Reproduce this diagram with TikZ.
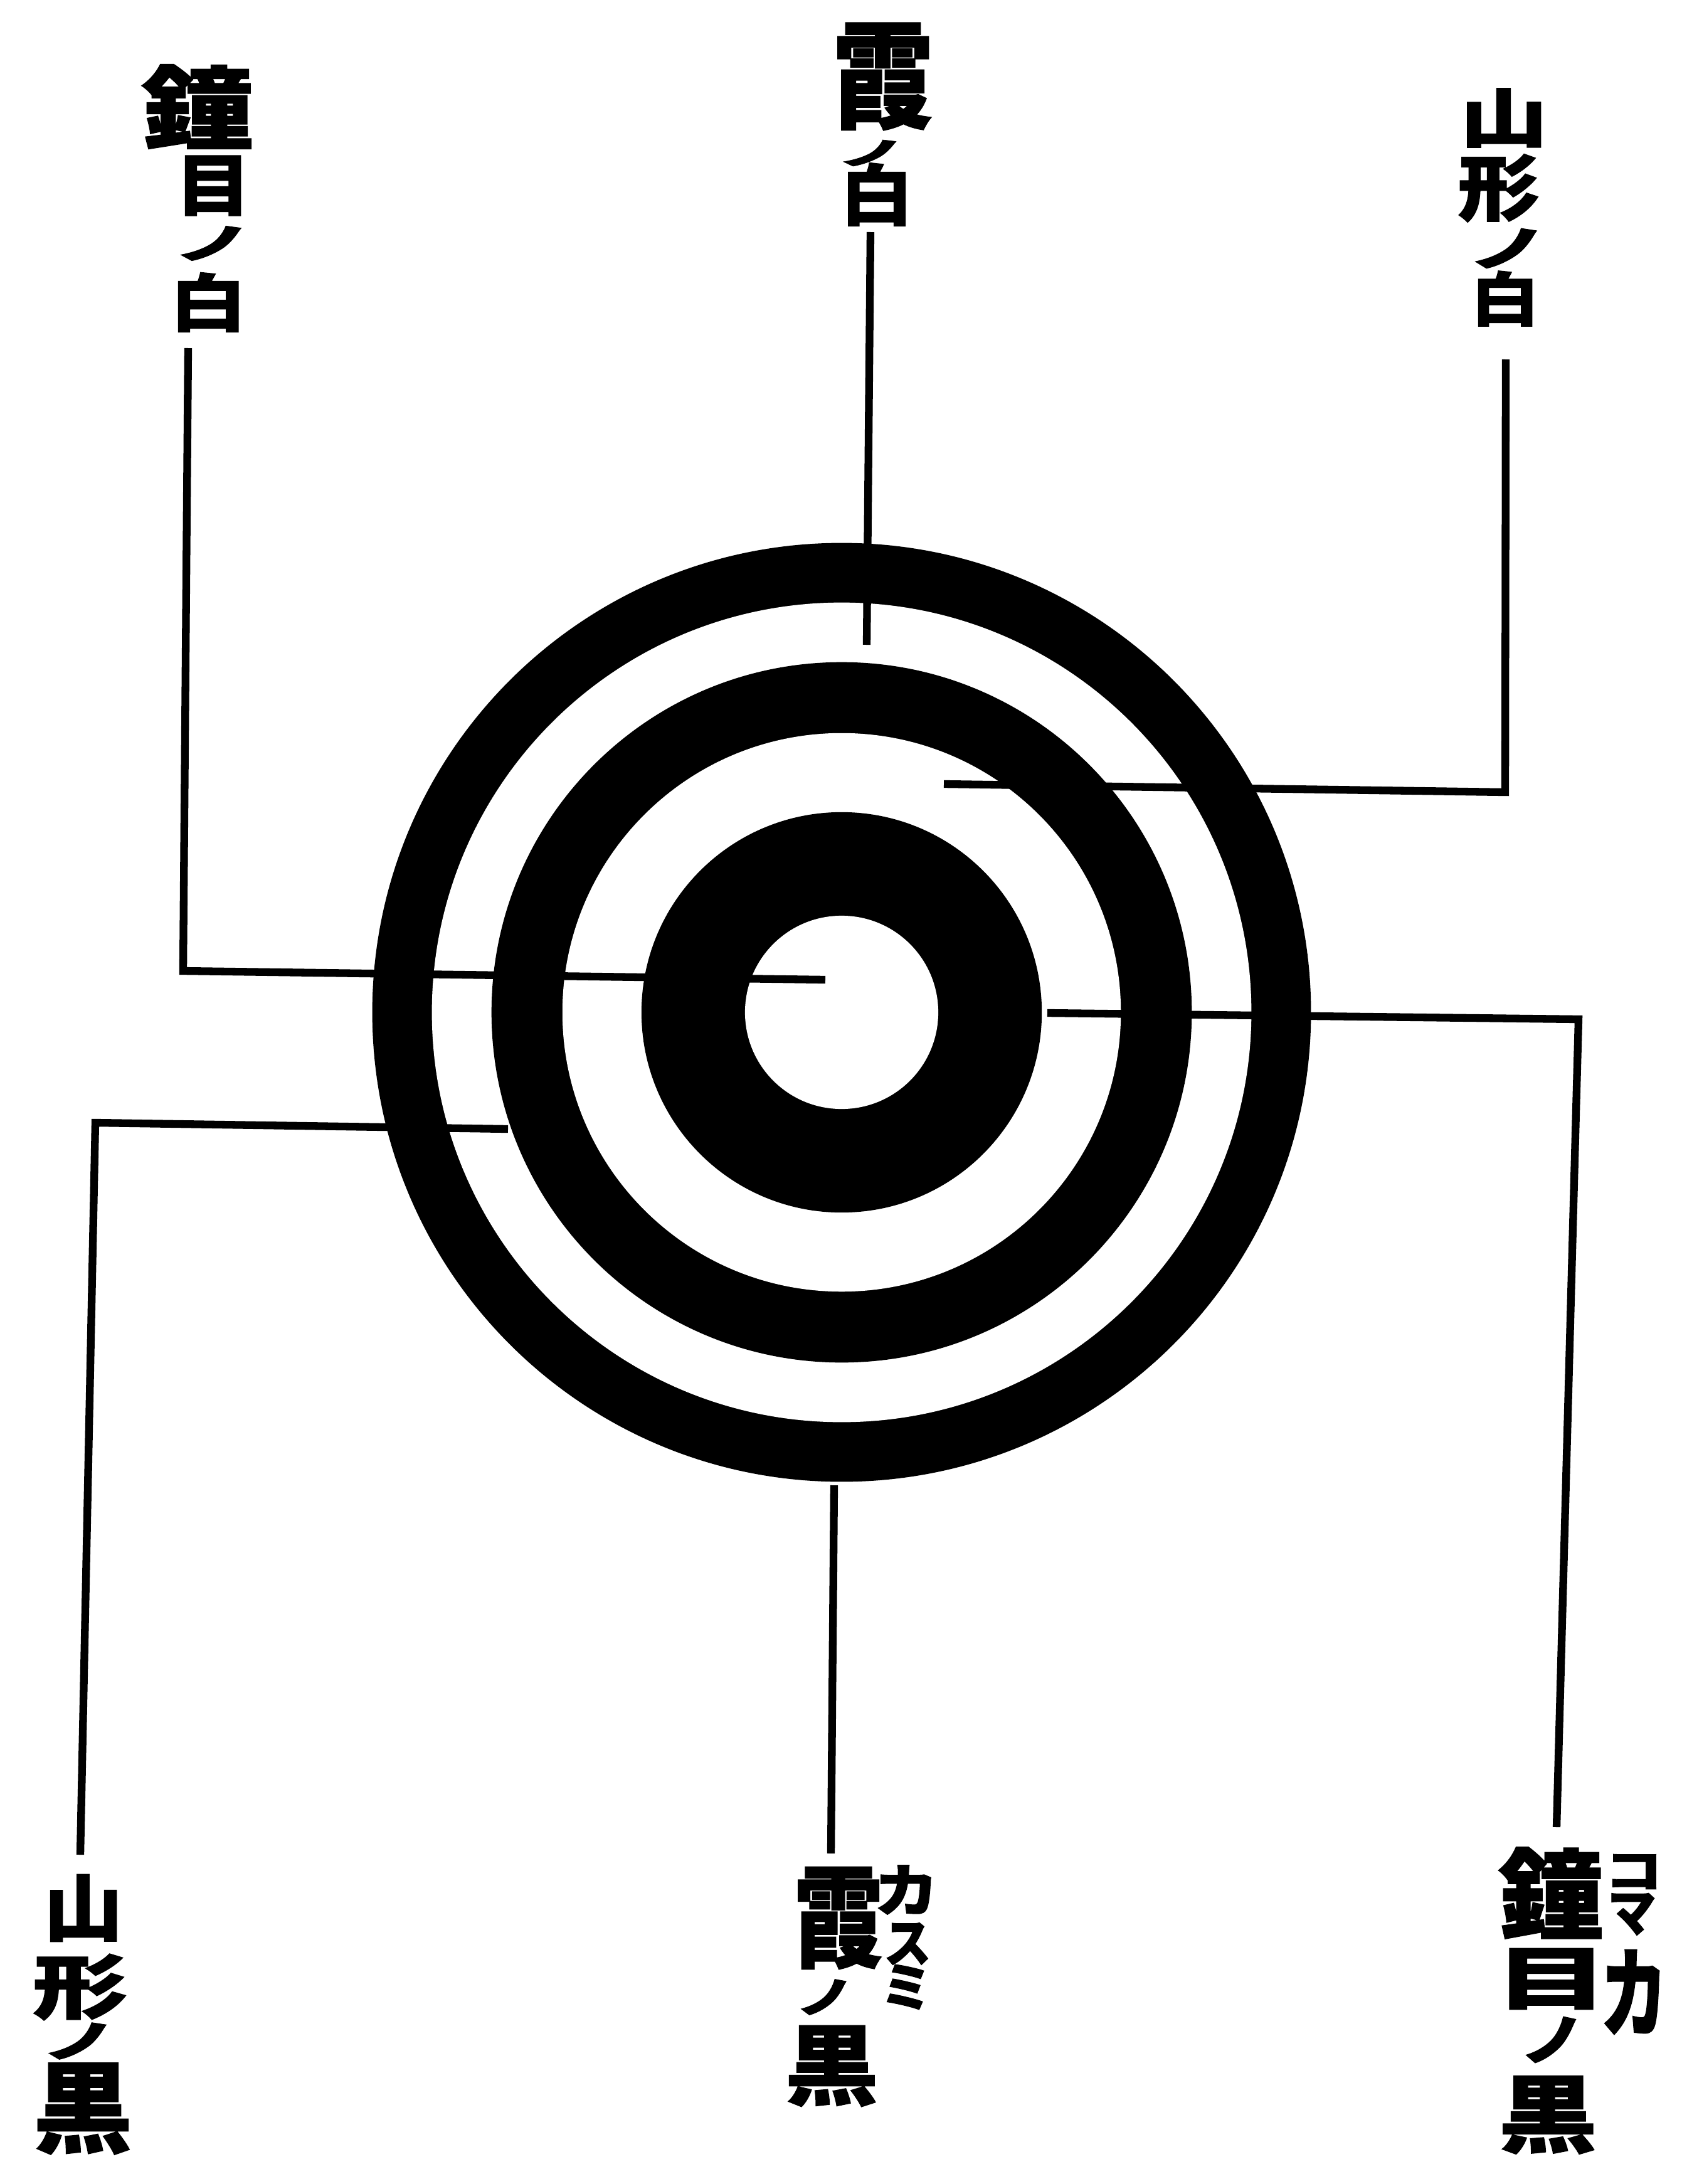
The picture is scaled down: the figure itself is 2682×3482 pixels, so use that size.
\documentclass[tikz,border=0pt]{standalone}
\usepackage{fontspec}
\newfontfamily\cjk{Noto Sans CJK JP}[BoldFeatures={FakeBold=1.2}]
\newcommand{\gly}[3]{\scalebox{#1}[#2]{#3}}
\begin{document}
\begin{tikzpicture}[x=0.01cm,y=-0.01cm,
  kj/.style={font=\cjk\bfseries\fontsize{28.45}{28.45}\selectfont, inner sep=0pt},
  lead/.style={line width=3.5pt, line join=miter},
  blk/.style={circle, fill=black, draw=none, inner sep=0pt},
  wht/.style={circle, fill=white, draw=none, inner sep=0pt}]
\useasboundingbox (0,0) rectangle (2682,3482);
\fill[white] (0,0) rectangle (2682,3482);
% target rings
\node[blk, minimum size=14.96cm] (kasumiK) at (1342,1614) {};
\node[wht, minimum size=13.06cm] (kasumiS) at (1342,1614) {};
\node[blk, minimum size=11.16cm] (yamaK)   at (1342,1614) {};
\node[wht, minimum size=8.90cm]  (yamaS)   at (1342,1614) {};
\node[blk, minimum size=6.38cm]  (kaneK)   at (1342,1614) {};
\node[wht, minimum size=3.08cm]  (kaneS)   at (1342,1614) {};
% labels: top-left
\node[kj] (a1) at (315,170) {\gly{1.79}{1.44}{鐘}};
\node[kj] (a2) at (340,296) {\gly{1.20}{1.08}{目}};
\node[kj] (a3) at (340,388) {\gly{1.26}{0.66}{ノ}};
\node[kj] (a4) at (332,482) {\gly{1.22}{1.00}{白}};
% top-centre
\node[kj] (b1) at (1408,122) {\gly{1.60}{1.86}{霞}};
\node[kj] (b2) at (1390,244) {\gly{1.10}{0.50}{ノ}};
\node[kj] (b3) at (1398,310) {\gly{1.16}{1.06}{白}};
% top-right
\node[kj] (c1) at (2398,188) {\gly{1.40}{1.04}{山}};
\node[kj] (c2) at (2390,300) {\gly{1.30}{1.15}{形}};
\node[kj] (c3) at (2405,396) {\gly{1.28}{0.76}{ノ}};
\node[kj] (c4) at (2400,476) {\gly{1.09}{0.93}{白}};
% bottom-left
\node[kj] (d1) at (133,3042) {\gly{1.26}{1.18}{山}};
\node[kj] (d2) at (128,3168) {\gly{1.51}{1.12}{形}};
\node[kj] (d3) at (127,3254) {\gly{1.20}{0.70}{ノ}};
\node[kj] (d4) at (132,3362) {\gly{1.57}{1.58}{黒}};
% bottom-centre
\node[kj] (e1) at (1337,3058) {\gly{1.42}{1.77}{霞}};
\node[kj] (e2) at (1316,3184) {\gly{0.94}{0.68}{ノ}};
\node[kj] (e3) at (1326,3294) {\gly{1.48}{1.40}{黒}};
\node[kj] (e4) at (1445,3013) {\gly{1.03}{0.91}{カ}};
\node[kj] (e5) at (1447,3099) {\gly{0.75}{0.83}{ス}};
\node[kj] (e6) at (1445,3168) {\gly{0.82}{0.84}{ミ}};
% bottom-right
\node[kj] (f1) at (2473,3018) {\gly{1.68}{1.56}{鐘}};
\node[kj] (f2) at (2474,3155) {\gly{1.80}{1.10}{目}};
\node[kj] (f3) at (2476,3252) {\gly{1.04}{0.88}{ノ}};
\node[kj] (f4) at (2468,3372) {\gly{1.56}{1.35}{黒}};
\node[kj] (f5) at (2605,2984) {\gly{0.92}{0.74}{コ}};
\node[kj] (f6) at (2602,3052) {\gly{0.77}{0.84}{マ}};
\node[kj] (f7) at (2605,3176) {\gly{1.07}{1.56}{カ}};
% leader coordinates
\coordinate (p1) at (300,555);  \coordinate (q1) at (292,1548);  \coordinate (t1) at (1316,1562);
\coordinate (p2) at (1388,370); \coordinate (t2) at (1382,1028);
\coordinate (p3) at (2401,573); \coordinate (q3) at (2400,1263); \coordinate (t3) at (1505,1250);
\coordinate (p4) at (128,2957); \coordinate (q4) at (152,1790);  \coordinate (t4) at (810,1800);
\coordinate (p5) at (1325,2955);\coordinate (t5) at (1330,2368);
\coordinate (p6) at (2482,2913);\coordinate (q6) at (2517,1625); \coordinate (t6) at (1670,1615);
% leaders
\draw[lead] (p1) -- (q1) -- (t1);
\draw[lead] (p2) -- (t2);
\draw[lead] (p3) -- (q3) -- (t3);
\draw[lead] (p4) -- (q4) -- (t4);
\draw[lead] (p5) -- (t5);
\draw[lead] (p6) -- (q6) -- (t6);
\end{tikzpicture}
\end{document}
